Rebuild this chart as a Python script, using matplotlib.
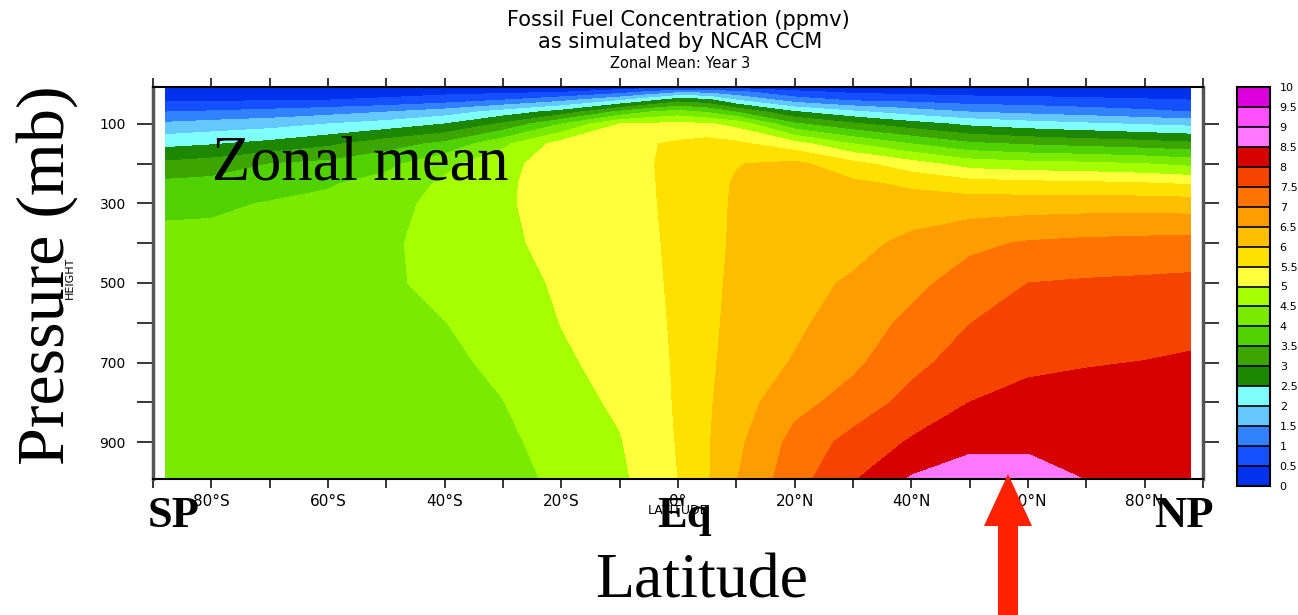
import numpy as np
import matplotlib
matplotlib.use('Agg')
import matplotlib.pyplot as plt
from matplotlib.patches import Polygon

W, H = 1298, 615

# model grid: latitude (deg) and pressure (mb)
lats = [-87.9, -80, -70, -60, -50, -40, -30, -20, -10, -5, 0,
        5, 10, 20, 30, 40, 50, 60, 70, 80, 87.9]
plevs = [7, 20, 40, 70, 100, 150, 200, 250, 300, 400, 500, 600, 700, 800, 900, 993]

# zonal-mean concentration (ppmv), one vertical profile per latitude, top -> surface
profiles = [
    [0.10, 0.25, 0.41, 1.00, 1.58, 2.36, 3.10, 3.61, 3.88, 4.15, 4.20, 4.20, 4.20, 4.20, 4.20, 4.20],
    [0.10, 0.27, 0.44, 1.06, 1.69, 2.46, 3.21, 3.66, 3.91, 4.15, 4.20, 4.20, 4.20, 4.20, 4.20, 4.20],
    [0.10, 0.30, 0.46, 1.17, 1.80, 2.64, 3.50, 3.79, 4.03, 4.20, 4.22, 4.22, 4.22, 4.21, 4.20, 4.20],
    [0.10, 0.30, 0.50, 1.31, 2.00, 2.90, 3.62, 3.95, 4.12, 4.25, 4.27, 4.27, 4.25, 4.22, 4.20, 4.20],
    [0.10, 0.32, 0.58, 1.50, 2.20, 3.28, 3.86, 4.20, 4.33, 4.42, 4.43, 4.38, 4.32, 4.27, 4.23, 4.20],
    [0.12, 0.36, 0.75, 1.75, 2.50, 3.62, 4.37, 4.58, 4.65, 4.68, 4.62, 4.49, 4.40, 4.32, 4.27, 4.24],
    [0.14, 0.40, 1.00, 2.20, 3.08, 4.39, 4.82, 4.90, 4.93, 4.90, 4.80, 4.70, 4.60, 4.49, 4.38, 4.30],
    [0.16, 0.48, 1.35, 2.70, 4.00, 5.20, 5.30, 5.28, 5.22, 5.15, 5.07, 5.01, 4.93, 4.83, 4.72, 4.62],
    [0.18, 0.80, 1.93, 3.63, 5.00, 5.40, 5.45, 5.45, 5.42, 5.36, 5.30, 5.23, 5.15, 5.07, 4.97, 4.90],
    [0.22, 1.10, 2.33, 4.00, 5.05, 5.46, 5.47, 5.46, 5.45, 5.42, 5.39, 5.36, 5.33, 5.30, 5.24, 5.18],
    [0.30, 1.40, 2.78, 4.20, 5.12, 5.58, 5.62, 5.62, 5.62, 5.61, 5.60, 5.58, 5.56, 5.55, 5.53, 5.50],
    [0.28, 1.35, 2.64, 3.95, 5.05, 5.70, 5.82, 5.85, 5.87, 5.88, 5.90, 5.90, 5.91, 5.93, 5.95, 5.95],
    [0.24, 1.15, 2.00, 3.50, 4.85, 5.60, 5.98, 6.04, 6.05, 6.06, 6.08, 6.12, 6.18, 6.27, 6.38, 6.48],
    [0.16, 0.62, 1.25, 2.55, 3.58, 5.20, 6.12, 6.20, 6.25, 6.30, 6.35, 6.40, 6.54, 6.84, 7.16, 7.30],
    [0.12, 0.42, 0.93, 2.10, 3.08, 4.50, 5.65, 6.10, 6.20, 6.35, 6.56, 6.75, 6.90, 7.19, 7.67, 7.95],
    [0.08, 0.35, 0.85, 1.75, 2.70, 4.00, 5.20, 5.91, 6.22, 6.62, 6.86, 7.11, 7.35, 7.67, 8.05, 8.55],
    [0.05, 0.30, 0.72, 1.50, 2.38, 3.59, 4.78, 5.70, 6.24, 6.89, 7.22, 7.49, 7.74, 8.00, 8.35, 8.80],
    [0.05, 0.25, 0.70, 1.37, 2.20, 3.44, 4.66, 5.64, 6.26, 7.05, 7.50, 7.72, 7.91, 8.14, 8.33, 8.85],
    [0.05, 0.24, 0.62, 1.25, 2.07, 3.33, 4.60, 5.60, 6.28, 7.12, 7.55, 7.76, 7.97, 8.18, 8.35, 8.48],
    [0.05, 0.22, 0.55, 1.12, 1.95, 3.22, 4.50, 5.54, 6.27, 7.16, 7.58, 7.80, 8.01, 8.20, 8.35, 8.42],
    [0.05, 0.20, 0.50, 1.00, 1.86, 3.11, 4.36, 5.45, 6.25, 7.19, 7.61, 7.85, 8.06, 8.22, 8.35, 8.40],
]

levels = np.arange(0, 10.5, 0.5)
band_colors = ['#0032EE', '#1450FF', '#3282FF', '#64C8FF', '#80FFFF',
               '#1E8700', '#3CA500', '#50D200', '#7AEB00', '#A5FF00',
               '#FFFF3C', '#FFE100', '#FFBE00', '#FF9C00', '#FF7300',
               '#F54300', '#D70000', '#FF78FF', '#FF50FF', '#DC00DC']

xtick_vals = [-80, -60, -40, -20, 0, 20, 40, 60, 80]
xtick_labels = ['80°S', '60°S', '40°S', '20°S', '0°', '20°N', '40°N', '60°N', '80°N']
ytick_vals = [100, 300, 500, 700, 900]


def fxy(x, y):
    # pixel position (from top-left) -> figure fraction
    return x / W, 1 - y / H


conc = np.array(profiles).T

fig = plt.figure(figsize=(W / 100, H / 100), dpi=100)
ax = fig.add_axes([153 / W, 1 - 479 / H, 1050 / W, 392 / H])
cs = ax.contourf(lats, plevs, conc, levels=levels, colors=band_colors)
ax.set_xlim(-90, 90)
ax.set_ylim(993, 7)

xt = np.arange(-90, 91, 10)
ax.set_xticks(xt)
ax.set_xticklabels([xtick_labels[xtick_vals.index(v)] if v in xtick_vals else '' for v in xt])
yt = np.arange(100, 901, 100)
ax.set_yticks(yt)
ax.set_yticklabels([str(v) if v in ytick_vals else '' for v in yt])
ax.tick_params(axis='x', direction='out', length=6.5, width=1.1, top=True,
               labelsize=11, pad=4)
ax.tick_params(axis='y', direction='out', length=11.5, width=1.1, right=True,
               labelsize=10, pad=8)
for s in ('left', 'right'):
    ax.spines[s].set_color('#555555')
    ax.spines[s].set_linewidth(2.5)
for s in ('top', 'bottom'):
    ax.spines[s].set_linewidth(1.5)

# colour key
cax = fig.add_axes([1237 / W, 1 - 486 / H, 33 / W, 399 / H])
cb = fig.colorbar(cs, cax=cax, ticks=levels, drawedges=True)
cb.ax.set_yticklabels(['%g' % v for v in levels])
cb.ax.tick_params(length=0, labelsize=8, pad=7)
cb.outline.set_linewidth(1.5)
cb.dividers.set_linewidth(1.2)

# titles
fig.text(*fxy(678, 19.5), 'Fossil Fuel Concentration (ppmv)', size=15,
         ha='center', va='center')
fig.text(*fxy(680, 42.5), 'as simulated by NCAR CCM', size=15,
         ha='center', va='center')
fig.text(*fxy(680, 63), 'Zonal Mean: Year 3', size=10.5,
         ha='center', va='center')

# small axis names
fig.text(*fxy(678, 511), 'LATITUDE', size=9, ha='center', va='center')
fig.text(*fxy(70, 278), 'HEIGHT', size=8, rotation=90, ha='center', va='center',
         family=['Liberation Sans Narrow', 'DejaVu Sans'])

# big annotations
serif = ['Liberation Serif', 'DejaVu Serif']
fig.text(*fxy(47, 275), 'Pressure (mb)', family=serif, size=49, rotation=90,
         ha='center', va='center')
fig.text(*fxy(212, 180), 'Zonal mean', family=serif, size=45, ha='left', va='baseline')
fig.text(*fxy(174, 527), 'SP', family=serif, weight='bold', size=32, ha='center', va='baseline')
fig.text(*fxy(685, 527), 'Eq', family=serif, weight='bold', size=32, ha='center', va='baseline')
fig.text(*fxy(1184, 527), 'NP', family=serif, weight='bold', size=32, ha='center', va='baseline')
fig.text(*fxy(702, 597), 'Latitude', family=serif, size=46, ha='center', va='baseline')

# arrow pointing at the surface maximum
arrow_px = [(1008, 474), (1032, 526), (1018, 526), (1018, 620),
            (998, 620), (998, 526), (984, 526)]
fig.add_artist(Polygon([fxy(x, y) for x, y in arrow_px], closed=True,
                       transform=fig.transFigure, facecolor='#FF2200',
                       edgecolor='none', clip_on=False))

fig.savefig('out.png', dpi=100)
